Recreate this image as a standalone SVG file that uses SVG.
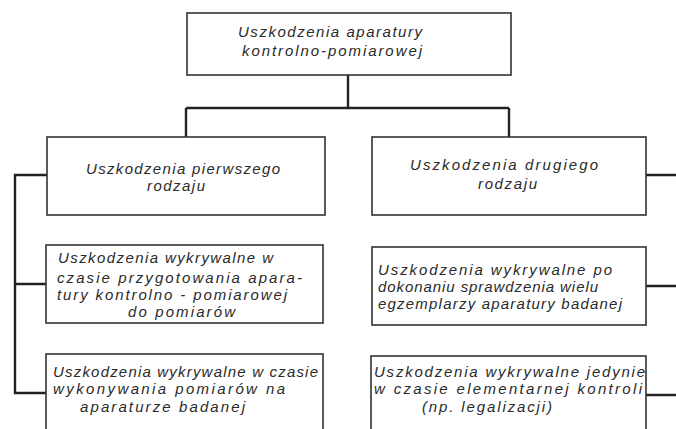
<svg xmlns="http://www.w3.org/2000/svg" width="676" height="429" viewBox="0 0 676 429">
<style>
.box{fill:#fff;stroke:#333;stroke-width:1.6}
.t{font-family:"Liberation Sans","DejaVu Sans",sans-serif;font-style:italic;font-size:15px;fill:#2a2a2a}
.c{fill:none;stroke:#222;stroke-width:2.4}
</style>
<rect width="676" height="429" fill="#fff"/>
<g id="connectors">
<path class="c" d="M348,75 V108 M186,108 H509 M186,108 V137 M509,108 V137"/>
<path class="c" d="M47,175 H15 V393 H46 M15,284 H46"/>
<path class="c" d="M646,175 H676 M646,286 H676 M646,395 H676"/>
</g>
<g id="root">
<rect class="box" x="187" y="13" width="324" height="62"/>
<text class="t" x="238" y="37" textLength="184" lengthAdjust="spacing">Uszkodzenia aparatury</text>
<text class="t" x="242" y="56" textLength="180" lengthAdjust="spacing">kontrolno-pomiarowej</text>
</g>
<g id="first">
<rect class="box" x="47" y="137" width="278" height="78"/>
<text class="t" x="86" y="174" textLength="194" lengthAdjust="spacing">Uszkodzenia pierwszego</text>
<text class="t" x="147" y="191" textLength="58" lengthAdjust="spacing">rodzaju</text>
</g>
<g id="second">
<rect class="box" x="372" y="137" width="274" height="78"/>
<text class="t" x="410" y="170" textLength="188" lengthAdjust="spacing">Uszkodzenia drugiego</text>
<text class="t" x="478" y="189" textLength="59" lengthAdjust="spacing">rodzaju</text>
</g>
<g id="first-a">
<rect class="box" x="46" y="245" width="277" height="78"/>
<text class="t" x="58" y="263" textLength="215" lengthAdjust="spacing">Uszkodzenia wykrywalne w</text>
<text class="t" x="57" y="283" textLength="245" lengthAdjust="spacing">czasie przygotowania apara-</text>
<text class="t" x="57" y="300" textLength="230" lengthAdjust="spacing">tury kontrolno - pomiarowej</text>
<text class="t" x="128" y="317" textLength="107" lengthAdjust="spacing">do pomiarów</text>
</g>
<g id="second-a">
<rect class="box" x="372" y="247" width="274" height="78"/>
<text class="t" x="378" y="275" textLength="234" lengthAdjust="spacing">Uszkodzenia wykrywalne po</text>
<text class="t" x="378" y="292" textLength="220" lengthAdjust="spacing">dokonaniu sprawdzenia wielu</text>
<text class="t" x="378" y="309" textLength="244" lengthAdjust="spacing">egzemplarzy aparatury badanej</text>
</g>
<g id="first-b">
<rect class="box" x="46" y="354" width="277" height="90"/>
<text class="t" x="53" y="377" textLength="265" lengthAdjust="spacing">Uszkodzenia wykrywalne w czasie</text>
<text class="t" x="53" y="394" textLength="232" lengthAdjust="spacing">wykonywania pomiarów na</text>
<text class="t" x="80" y="412" textLength="165" lengthAdjust="spacing">aparaturze badanej</text>
</g>
<g id="second-b">
<rect class="box" x="371" y="356" width="275" height="90"/>
<text class="t" x="374" y="377" textLength="271" lengthAdjust="spacing">Uszkodzenia wykrywalne jedynie</text>
<text class="t" x="374" y="394" textLength="268" lengthAdjust="spacing">w czasie elementarnej kontroli</text>
<text class="t" x="422" y="412" textLength="130" lengthAdjust="spacing">(np. legalizacji)</text>
</g>
</svg>
